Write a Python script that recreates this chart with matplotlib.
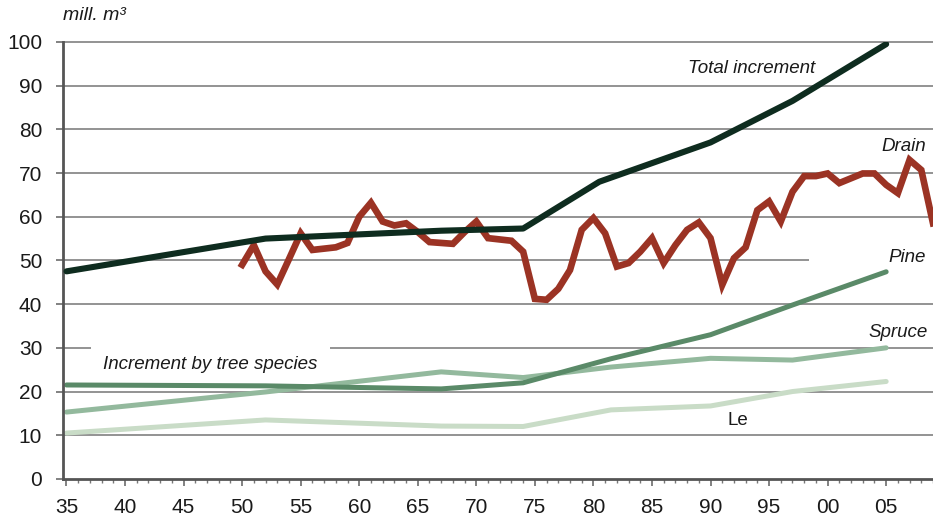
import matplotlib
matplotlib.use("Agg")
import matplotlib.pyplot as plt
from matplotlib import font_manager
from matplotlib.ticker import MultipleLocator

# pick a narrow sans if present
names = {f.name for f in font_manager.fontManager.ttflist}
fam = [n for n in ['Liberation Sans Narrow', 'Liberation Sans', 'DejaVu Sans'] if n in names]
plt.rcParams['font.family'] = fam

# Total increment (mill. m3)
total_years = [1935, 1952, 1967, 1974, 1980.5, 1990, 1997, 2005]
total_vals = [47.5, 55.0, 56.8, 57.3, 68.0, 77.0, 86.5, 99.5]

# Drain, annual 1950-2009
drain_years = list(range(1950, 2010))
drain_vals = [49.0, 53.5, 47.5, 44.5, 50.3, 56.2, 52.4, 52.7, 53.0, 54.0,
              60.0, 63.2, 58.9, 58.0, 58.5, 56.5, 54.2, 54.0, 53.8, 56.5,
              58.9, 55.1, 54.8, 54.5, 52.0, 41.2, 41.0, 43.5, 47.8, 57.0,
              59.7, 56.2, 48.6, 49.4, 52.0, 55.1, 49.4, 53.5, 57.0, 58.7,
              55.1, 44.4, 50.5, 53.0, 61.5, 63.5, 58.9, 65.7, 69.3, 69.3,
              69.9, 67.7, 68.8, 69.9, 69.9, 67.3, 65.4, 73.0, 70.7, 58.5]

# Increment by tree species
sp_years = [1935, 1952, 1967, 1974, 1981.5, 1990, 1997, 2005]
pine = [21.5, 21.3, 20.6, 22.0, 27.5, 33.0, 39.8, 47.4]
spruce = [15.3, 19.9, 24.5, 23.2, 25.6, 27.6, 27.2, 30.0]
leaf = [10.5, 13.5, 12.1, 12.0, 15.8, 16.7, 20.0, 22.3]

xtick_years = list(range(1935, 2006, 5))
xtick_labels = ['35', '40', '45', '50', '55', '60', '65', '70', '75', '80',
                '85', '90', '95', '00', '05']
yticks = list(range(0, 101, 10))

fig = plt.figure(figsize=(9.33, 5.24), dpi=100)
ax = fig.add_axes([0.0675, 0.086, 0.9325, 0.834])
ax.set_xlim(1934.7, 2009)
ax.set_ylim(0, 100)

# grid (the 50 line stops short of the Pine label)
for y in yticks[1:]:
    xend = 1998.4 if y == 50 else 2009
    ax.plot([1934.7, xend], [y, y], color='#8a8a8a', lw=1.3, zorder=0.5,
            clip_on=False, solid_capstyle='butt')

ax.plot(sp_years, leaf, color='#c9dcc7', lw=3.6, zorder=2, solid_capstyle='round')
ax.plot(sp_years, spruce, color='#93b99d', lw=3.6, zorder=2, solid_capstyle='round')
ax.plot(sp_years, pine, color='#5a8a68', lw=3.6, zorder=2.1, solid_capstyle='round')
ax.plot(drain_years, drain_vals, color='#9b3324', lw=4.8, zorder=3,
        solid_joinstyle='miter')
ax.plot(total_years, total_vals, color='#0e2c1f', lw=4.4, zorder=4,
        solid_capstyle='round')

lab = dict(fontsize=13.5, style='italic', color='#1a1a1a')
ax.text(1993.5, 94, 'Total increment', ha='center', va='center', **lab)
ax.text(2006.5, 76, 'Drain', ha='center', va='center', **lab)
ax.text(2006.8, 50.6, 'Pine', ha='center', va='center', **lab)
ax.text(2006.0, 33.4, 'Spruce', ha='center', va='center', **lab)
ax.text(1992.3, 13.3, 'Le', ha='center', va='center', fontsize=13.5, color='#1a1a1a')
ax.text(1947.3, 26.1, 'Increment by tree species', ha='center', va='center',
        zorder=1, bbox=dict(facecolor='white', edgecolor='none', pad=9), **lab)
ax.text(0.0, 1.04, 'mill. m\u00b3', transform=ax.transAxes, ha='left',
        va='bottom', fontsize=14, style='italic', color='#1a1a1a')

for s in ['top', 'right']:
    ax.spines[s].set_visible(False)
for s in ['left', 'bottom']:
    ax.spines[s].set_color('#555555')
    ax.spines[s].set_linewidth(2)

ax.set_yticks(yticks)
ax.set_xticks(xtick_years)
ax.set_xticklabels(xtick_labels)
ax.xaxis.set_minor_locator(MultipleLocator(1))
ax.tick_params(axis='y', length=5, width=1.3, color='#777777', pad=10,
               labelsize=15, labelcolor='#1a1a1a')
ax.tick_params(axis='x', which='major', length=5, width=1.3, color='#777777',
               pad=9, labelsize=15, labelcolor='#1a1a1a')
ax.tick_params(axis='x', which='minor', length=3, width=1, color='#777777')

fig.savefig('out.png', dpi=100, facecolor='white')
